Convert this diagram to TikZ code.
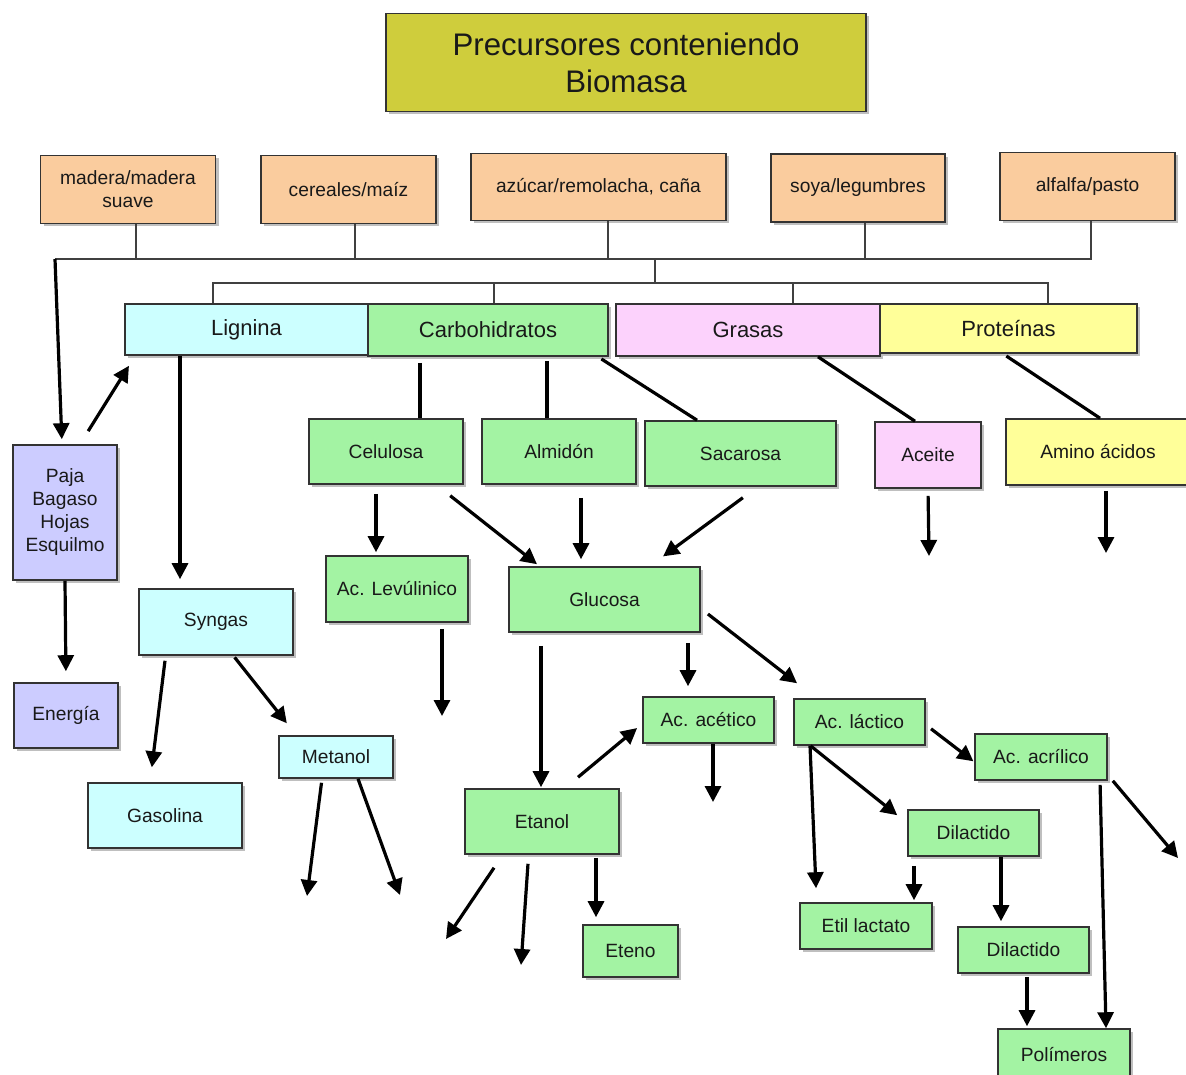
\documentclass[tikz,border=0pt]{standalone}
\usepackage{fontspec}
\setmainfont{Liberation Sans}
\usetikzlibrary{arrows.meta,shadows}

\definecolor{titlecol}{RGB}{207,205,60}
\definecolor{peachcol}{RGB}{250,204,158}
\definecolor{ligcol}{RGB}{204,255,255}
\definecolor{carbcol}{RGB}{163,243,163}
\definecolor{grascol}{RGB}{252,210,252}
\definecolor{protcol}{RGB}{255,255,153}
\definecolor{pajacol}{RGB}{204,204,255}

\begin{document}
\begin{tikzpicture}[x=0.5pt,y=-0.5pt]
    \tikzstyle{box}=[rectangle,draw=black!80,line width=0.8pt,inner sep=2pt,align=center,text=black!90,font=\fontsize{9.6}{11.5}\selectfont,drop shadow={shadow xshift=1.5pt,shadow yshift=-1.5pt,fill=black,opacity=0.25}]
    \tikzstyle{bigbox}=[minimum width=77pt,minimum height=32.5pt]
    \tikzstyle{smallbox}=[minimum width=65.5pt,minimum height=23pt]
    \tikzstyle{srcbox}=[box,fill=peachcol,minimum width=87.5pt,minimum height=34pt]
    \tikzstyle{groupbox}=[box,font=\fontsize{11}{13}\selectfont,minimum height=25.5pt]
    \tikzstyle{arr}=[-{Triangle[length=8pt,width=8pt]},line width=1.6pt]
    \tikzstyle{link}=[line width=1.6pt]
    \tikzstyle{treeline}=[line width=0.6pt,black!75]
    \useasboundingbox (0,0) rectangle (1186,1074);
    \clip (0,0) rectangle (1186,1074);
    \fill[white] (0,0) rectangle (1186,1074);
    % top
    \node (title) at (626,62.5) [box,fill=titlecol,minimum width=240pt,minimum height=49pt,font=\fontsize{15.6}{18.5}\selectfont] {Precursores conteniendo\\Biomasa};
    \node (madera) at (128,189.5) [srcbox] {madera/madera\\suave};
    \node (cereales) at (348.5,189.5) [srcbox] {cereales/maíz};
    \node (azucar) at (598.5,187) [srcbox,minimum width=127.5pt,minimum height=33.5pt] {azúcar/remolacha, caña};
    \node (soya) at (858,188) [srcbox,minimum width=87pt] {soya/legumbres};
    \node (alfalfa) at (1087.5,186.5) [srcbox] {alfalfa/pasto};
    \node (lignina) at (246.5,329.5) [groupbox,fill=ligcol,minimum width=121.5pt] {Lignina};
    \node (carbo) at (488,330) [groupbox,fill=carbcol,minimum width=120pt,minimum height=26pt] {Carbohidratos};
    \node (grasas) at (748,330) [groupbox,fill=grascol,minimum width=132pt,minimum height=26pt] {Grasas};
    \node (proteinas) at (1008.5,328.5) [groupbox,fill=protcol,minimum width=128.5pt,minimum height=24.5pt] {Proteínas};
    % products
    \node (paja) at (65,512.5) [box,fill=pajacol,minimum width=52pt,minimum height=67.5pt] {Paja\\Bagaso\\Hojas\\Esquilmo};
    \node (energia) at (66,715.5) [box,fill=pajacol,minimum width=52pt,minimum height=32.5pt] {Energía};
    \node (syngas) at (216,622) [box,bigbox,fill=ligcol,minimum height=33pt] {Syngas};
    \node (gasolina) at (165,815.5) [box,bigbox,fill=ligcol] {Gasolina};
    \node (metanol) at (336,757) [box,fill=ligcol,minimum width=57pt,minimum height=21pt] {Metanol};
    \node (celulosa) at (386,451.5) [box,bigbox,fill=carbcol] {Celulosa};
    \node (almidon) at (559,451.5) [box,bigbox,fill=carbcol] {Almidón};
    \node (sacarosa) at (740.5,453.5) [box,fill=carbcol,minimum width=95.5pt,minimum height=32.5pt] {Sacarosa};
    \node (aceite) at (928,455) [box,fill=grascol,minimum width=53pt,minimum height=33pt] {Aceite};
    \node (amino) at (1098,452) [box,fill=protcol,minimum width=92pt,minimum height=33pt] {Amino ácidos};
    \node (levulinico) at (397,589) [box,fill=carbcol,minimum width=71pt,minimum height=33pt] {Ac. Levúlinico};
    \node (glucosa) at (604.5,599.5) [box,fill=carbcol,minimum width=95.5pt,minimum height=32.5pt] {Glucosa};
    \node (acetico) at (708.5,720) [box,smallbox,fill=carbcol] {Ac. acético};
    \node (lactico) at (859.5,722) [box,smallbox,fill=carbcol] {Ac. láctico};
    \node (acrilico) at (1041,757) [box,smallbox,fill=carbcol,minimum width=66pt] {Ac. acrílico};
    \node (etanol) at (542,821.5) [box,bigbox,fill=carbcol] {Etanol};
    \node (eteno) at (630.5,951) [box,fill=carbcol,minimum width=47.5pt,minimum height=26pt] {Eteno};
    \node (dilactidoA) at (973.5,833) [box,smallbox,fill=carbcol] {Dilactido};
    \node (etil) at (866,926) [box,smallbox,fill=carbcol,minimum width=66pt] {Etil lactato};
    \node (dilactidoB) at (1023.5,950) [box,smallbox,fill=carbcol] {Dilactido};
    \node (polimeros) at (1064,1054.5) [box,smallbox,fill=carbcol,minimum width=66pt,minimum height=25.5pt] {Polímeros};
    % loose ends
    \coordinate (busL) at (55,259);
    \coordinate (busM) at (655,259);
    \coordinate (busN) at (655,283);
    \coordinate (metA) at (307,896);
    \coordinate (metB) at (400,895);
    \coordinate (aceiteOut) at (929,556);
    \coordinate (aminoOut) at (1106,553);
    \coordinate (levOut) at (442,716);
    \coordinate (acetOut) at (713,802);
    \coordinate (etA) at (446,939);
    \coordinate (etB) at (521,965);
    \coordinate (acrOut) at (1178,858);
    % tree
    \draw[treeline] (busL) -| ([xshift=1.75pt]alfalfa.south);
    \draw[treeline] ([xshift=4pt]madera.south) -- ++(0,34);
    \draw[treeline] ([xshift=3.25pt]cereales.south) -- ++(0,34);
    \draw[treeline] ([xshift=4.75pt]azucar.south) -- ++(0,37);
    \draw[treeline] ([xshift=3.5pt]soya.south) -- ++(0,36);
    \draw[treeline] (busM) -- (busN);
    \draw[treeline] ([xshift=-16.75pt]lignina.north) |- (busN) -| ([xshift=19.75pt]proteinas.north);
    \draw[treeline] ([xshift=3pt]carbo.north) -- ++(0,-21);
    \draw[treeline] ([xshift=22.5pt]grasas.north) -- ++(0,-21);
    % lignina side
    \draw[arr,shorten >=2.5pt] (busL) -- ([xshift=-1.5pt]paja.north);
    \draw[arr,shorten <=7.7pt,shorten >=5.9pt] ([xshift=7.5pt]paja.north) -- ([xshift=5.5pt]lignina.south west);
    \draw[arr,shorten >=4.5pt] ([xshift=-33.25pt]lignina.south) -- ([xshift=-18pt]syngas.north);
    \draw[arr,shorten >=5.5pt] (paja.south) -- (energia.north);
    \draw[arr,shorten <=2.5pt,shorten >=7.5pt] ([xshift=-25.2pt]syngas.south) -- ([xshift=-7.5pt]gasolina.north);
    \draw[arr,shorten <=1pt,shorten >=7.6pt] ([xshift=8.7pt]syngas.south) -- ([xshift=-19.85pt]metanol.north);
    \draw[arr,shorten <=2pt] ([xshift=-7pt]metanol.south) -- (metA);
    \draw[arr] ([xshift=11pt]metanol.south) -- (metB);
    % carbohidratos, grasas, proteinas
    \draw[link,shorten <=3pt] ([xshift=-34pt]carbo.south) -- ([xshift=17pt]celulosa.north);
    \draw[link,shorten <=2pt] ([xshift=29.5pt]carbo.south) -- ([xshift=-6pt]almidon.north);
    \draw[link,shorten <=2pt] ([xshift=55pt]carbo.south) -- ([xshift=-21.75pt]sacarosa.north);
    \draw[link] ([xshift=35pt]grasas.south) -- ([xshift=-6.5pt]aceite.north);
    \draw[link,shorten <=2pt] ([xshift=-2.75pt]proteinas.south) -- ([xshift=1pt]amino.north);
    \draw[arr,shorten <=3.5pt] (aceite.south) -- (aceiteOut);
    \draw[arr,shorten <=2.5pt] ([xshift=4pt]amino.south) -- (aminoOut);
    \draw[arr,shorten <=4.5pt,shorten >=1.5pt] ([xshift=-5pt]celulosa.south) -- ([xshift=-10.5pt]levulinico.north);
    \draw[arr,shorten <=8.8pt,shorten >=1.6pt] ([xshift=25.2pt]celulosa.south) -- ([xshift=-32.5pt]glucosa.north);
    \draw[arr,shorten <=6.5pt,shorten >=3.5pt] ([xshift=11pt]almidon.south) -- ([xshift=-11.75pt]glucosa.north);
    \draw[arr,shorten <=9.2pt,shorten >=8.3pt] ([xshift=8.6pt]sacarosa.south) -- ([xshift=22.6pt]glucosa.north);
    \draw[arr,shorten <=3pt] ([xshift=22.5pt]levulinico.south) -- (levOut);
    \draw[arr,shorten <=6.5pt,shorten >=0.5pt] ([xshift=-31.75pt]glucosa.south) -- ([xshift=-0.5pt]etanol.north);
    \draw[arr,shorten <=5pt,shorten >=5pt] ([xshift=41.75pt]glucosa.south) -- ([xshift=-10.25pt]acetico.north);
    \draw[arr,shorten <=4.5pt,shorten >=12.2pt] ([yshift=-4.5pt]glucosa.east) -- ([xshift=-21.6pt]lactico.north);
    \draw[arr,shorten <=8.6pt,shorten >=3.3pt] ([xshift=11.4pt]etanol.north) -- ([yshift=-1.9pt]acetico.west);
    \draw[arr] ([xshift=2.25pt]acetico.south) -- (acetOut);
    \draw[arr,shorten <=7.8pt] ([xshift=-19.6pt]etanol.south) -- (etA);
    \draw[arr,shorten <=4.5pt] ([xshift=-6.7pt]etanol.south) -- (etB);
    \draw[arr,shorten <=1.5pt,shorten >=3.5pt] ([xshift=27pt]etanol.south) -- ([xshift=-17.25pt]eteno.north);
    \draw[arr,shorten <=3.3pt,shorten >=0.5pt] ([yshift=-1.4pt]lactico.east) -- ([yshift=-2.45pt]acrilico.west);
    \draw[arr,shorten >=7pt] ([xshift=-24.75pt]lactico.south) -- ([xshift=-24.7pt]etil.north);
    \draw[arr,shorten >=6.4pt] ([xshift=-24.5pt]lactico.south) -- ([yshift=-7pt]dilactidoA.north west);
    \draw[arr,shorten <=4.5pt,shorten >=1pt] ([xshift=-29.75pt]dilactidoA.south) -- ([xshift=24pt]etil.north);
    \draw[arr,shorten >=2.5pt] ([xshift=13.75pt]dilactidoA.south) -- ([xshift=-11.25pt]dilactidoB.north);
    \draw[arr,shorten <=1.5pt,shorten >=1pt] ([xshift=1.75pt]dilactidoB.south) -- ([xshift=-18.5pt]polimeros.north);
    \draw[arr,shorten <=2pt] ([xshift=29.5pt]acrilico.south) -- ([xshift=21pt]polimeros.north);
    \draw[arr] ([xshift=2.5pt]acrilico.south east) -- (acrOut);
\end{tikzpicture}
\end{document}
